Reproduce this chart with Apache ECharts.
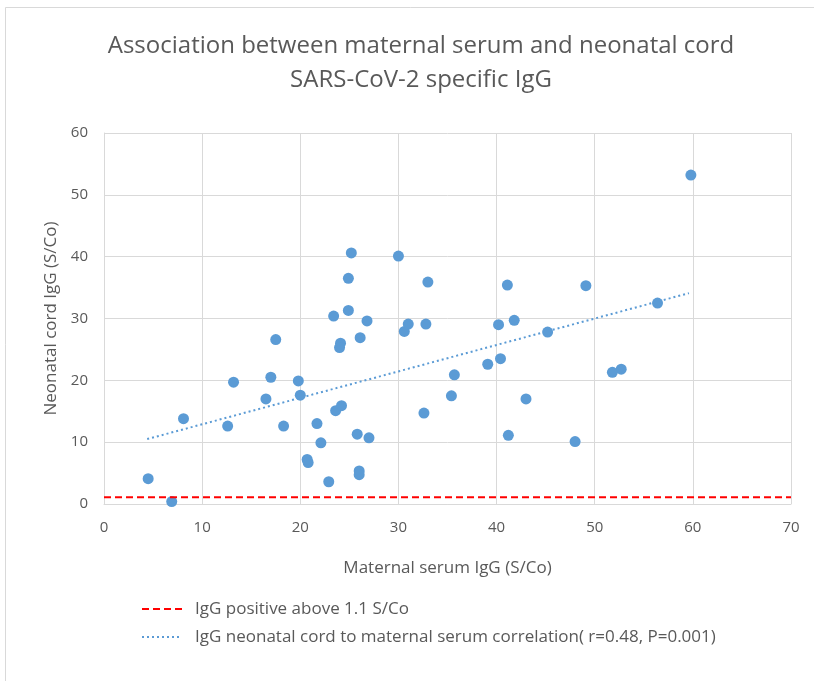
<!DOCTYPE html>
<html>
<head>
<meta charset="utf-8">
<script src="https://cdn.jsdelivr.net/npm/echarts@6/dist/echarts.min.js"></script>
<style>
  html, body { margin: 0; padding: 0; background: #fff; }
  #chart { width: 814px; height: 681px; }
</style>
</head>
<body>
<div id="chart"></div>
<script>
// maternal serum IgG (x) and neonatal cord IgG (y), S/Co
const maternalIgG = [4.5, 6.9, 8.1, 12.6, 13.2, 16.5, 17.0, 17.5, 18.3, 19.8, 20.0, 21.7, 22.1, 20.7, 20.8, 22.9,
  23.4, 24.1, 24.0, 23.6, 24.2, 24.9, 26.8, 26.1, 25.8, 27.0, 26.0, 26.0, 30.6, 31.0, 32.8, 32.6, 35.4, 35.7,
  39.1, 40.4, 40.2, 41.8, 41.2, 43.0, 45.2, 25.2, 30.0, 24.9, 33.0, 41.1, 59.8, 49.1, 56.4, 51.8, 52.7, 48.0];
const cordIgG = [4.1, 0.4, 13.8, 12.6, 19.7, 17.0, 20.5, 26.6, 12.6, 19.9, 17.6, 13.0, 9.9, 7.2, 6.7, 3.6,
  30.4, 26.0, 25.3, 15.1, 15.9, 31.3, 29.6, 26.9, 11.3, 10.7, 5.35, 4.75, 27.9, 29.1, 29.1, 14.7, 17.5, 20.9,
  22.6, 23.5, 29.0, 29.7, 11.1, 17.0, 27.8, 40.6, 40.1, 36.5, 35.9, 35.4, 53.2, 35.3, 32.5, 21.3, 21.8, 10.1];

// trend line end points and cut-off line
const trendX = [4.4, 59.6];
const trendY = [10.5, 34.1];
const cutoffX = [0, 70];
const cutoffY = [1.1, 1.1];

const xTicks = [0, 10, 20, 30, 40, 50, 60, 70];
const yTicks = [0, 10, 20, 30, 40, 50, 60];

const cutoffName = 'IgG positive above 1.1 S/Co';
const trendName = 'IgG neonatal cord to maternal serum correlation( r=0.48, P=0.001)';

const font = '"Open Sans", "Noto Sans", sans-serif';
const grey = '#595959';

const chart = echarts.init(document.getElementById('chart'), null, { renderer: 'canvas' });

const option = {
  backgroundColor: '#fff',
  animation: false,
  title: {
    text: 'Association between maternal serum and neonatal cord\nSARS-CoV-2 specific IgG',
    left: 416,
    textAlign: 'center',
    top: 24,
    textStyle: { fontFamily: font, fontSize: 24, fontWeight: 'normal', color: grey, lineHeight: 34 }
  },
  graphic: [{
    type: 'rect',
    shape: { x: 5.5, y: 7.5, width: 830, height: 700 },
    style: { fill: 'none', stroke: '#d9d9d9', lineWidth: 1 },
    silent: true
  }],
  legend: {
    orient: 'vertical',
    left: 136,
    top: 593,
    itemWidth: 40,
    itemHeight: 14,
    itemGap: 6,
    data: [cutoffName, trendName],
    itemStyle: { opacity: 0 },
    textStyle: { fontFamily: font, fontSize: 17, color: grey, lineHeight: 22, padding: [0, 0, 0, 8] }
  },
  grid: { left: 104, right: 23, top: 133, bottom: 177 },
  xAxis: {
    type: 'value',
    min: 0, max: 70, interval: 10,
    name: 'Maternal serum IgG (S/Co)',
    nameLocation: 'middle',
    nameGap: 56,
    nameTextStyle: { fontFamily: font, fontSize: 17, color: grey },
    axisLine: { show: true, lineStyle: { color: '#d9d9d9' } },
    axisTick: { show: false },
    axisLabel: { fontFamily: font, fontSize: 15, color: grey, margin: 16,
      formatter: v => xTicks.includes(v) ? String(v) : '' },
    splitLine: { show: true, lineStyle: { color: '#d9d9d9', width: 1 } }
  },
  yAxis: {
    type: 'value',
    min: 0, max: 60, interval: 10,
    name: 'Neonatal cord IgG (S/Co)',
    nameLocation: 'middle',
    nameGap: 36,
    nameTextStyle: { fontFamily: font, fontSize: 17, color: grey },
    axisLine: { show: true, lineStyle: { color: '#d9d9d9' } },
    axisTick: { show: false },
    axisLabel: { fontFamily: font, fontSize: 15, color: grey, margin: 16,
      formatter: v => yTicks.includes(v) ? String(v) : '' },
    splitLine: { show: true, lineStyle: { color: '#d9d9d9', width: 1 } }
  },
  series: [
    {
      name: 'data',
      type: 'scatter',
      symbolSize: 11,
      itemStyle: { color: '#5b9bd5', opacity: 1 },
      data: maternalIgG.map((x, i) => [x, cordIgG[i]]),
      z: 3
    },
    {
      name: cutoffName,
      type: 'line',
      symbol: 'none',
      clip: false,
      lineStyle: { color: '#ff0000', width: 2, type: [7, 4] },
      itemStyle: { color: '#ff0000' },
      data: cutoffX.map((x, i) => [x, cutoffY[i]]),
      z: 4
    },
    {
      name: trendName,
      type: 'line',
      symbol: 'none',
      lineStyle: { color: '#5b9bd5', width: 2, type: [2, 3] },
      itemStyle: { color: '#5b9bd5' },
      data: trendX.map((x, i) => [x, trendY[i]]),
      z: 2
    }
  ]
};

chart.setOption(option);
</script>
</body>
</html>
